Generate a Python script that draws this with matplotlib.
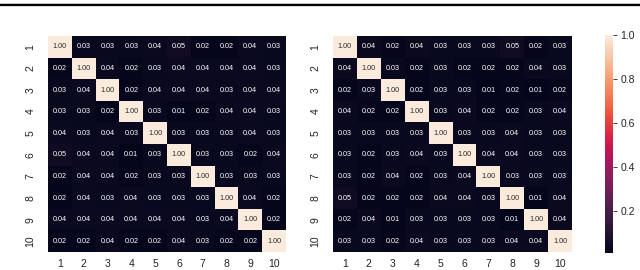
import numpy as np
import matplotlib
matplotlib.use("Agg")
import matplotlib.pyplot as plt
from matplotlib.lines import Line2D
import seaborn as sns

plt.rcParams['font.family'] = ['Liberation Sans', 'DejaVu Sans']

labels = [str(i) for i in range(1, 11)]

left_values = [
    [1.00, 0.03, 0.03, 0.03, 0.04, 0.05, 0.02, 0.02, 0.04, 0.03],
    [0.02, 1.00, 0.04, 0.02, 0.03, 0.04, 0.04, 0.04, 0.04, 0.03],
    [0.03, 0.04, 1.00, 0.02, 0.04, 0.04, 0.04, 0.03, 0.04, 0.04],
    [0.03, 0.03, 0.02, 1.00, 0.03, 0.01, 0.02, 0.04, 0.04, 0.03],
    [0.04, 0.03, 0.04, 0.03, 1.00, 0.03, 0.03, 0.03, 0.04, 0.03],
    [0.05, 0.04, 0.04, 0.01, 0.03, 1.00, 0.03, 0.03, 0.02, 0.04],
    [0.02, 0.04, 0.04, 0.02, 0.03, 0.03, 1.00, 0.03, 0.03, 0.03],
    [0.02, 0.04, 0.03, 0.04, 0.03, 0.03, 0.03, 1.00, 0.04, 0.02],
    [0.04, 0.04, 0.04, 0.04, 0.04, 0.04, 0.03, 0.04, 1.00, 0.02],
    [0.02, 0.02, 0.04, 0.02, 0.02, 0.04, 0.03, 0.02, 0.02, 1.00],
]

right_values = [
    [1.00, 0.04, 0.02, 0.04, 0.03, 0.03, 0.03, 0.05, 0.02, 0.03],
    [0.04, 1.00, 0.03, 0.02, 0.03, 0.02, 0.02, 0.02, 0.04, 0.03],
    [0.02, 0.03, 1.00, 0.02, 0.03, 0.03, 0.01, 0.02, 0.01, 0.02],
    [0.04, 0.02, 0.02, 1.00, 0.03, 0.04, 0.02, 0.02, 0.03, 0.04],
    [0.03, 0.03, 0.03, 0.03, 1.00, 0.03, 0.03, 0.04, 0.03, 0.03],
    [0.03, 0.02, 0.03, 0.04, 0.03, 1.00, 0.04, 0.04, 0.03, 0.03],
    [0.03, 0.02, 0.04, 0.02, 0.03, 0.04, 1.00, 0.03, 0.03, 0.03],
    [0.05, 0.02, 0.02, 0.02, 0.04, 0.04, 0.03, 1.00, 0.01, 0.04],
    [0.02, 0.04, 0.01, 0.03, 0.03, 0.03, 0.03, 0.01, 1.00, 0.04],
    [0.03, 0.03, 0.02, 0.04, 0.03, 0.03, 0.03, 0.04, 0.04, 1.00],
]

cbar_ticks = [0.2, 0.4, 0.6, 0.8, 1.0]

fig = plt.figure(figsize=(6.4, 2.7), dpi=100)
W, H = 640, 270

def px_axes(x0, y0, x1, y1):
    return fig.add_axes([x0 / W, 1 - y1 / H, (x1 - x0) / W, (y1 - y0) / H])

ax1 = px_axes(48, 36, 286, 252)
ax2 = px_axes(333, 36, 572, 252)
cax = px_axes(605, 35, 613, 253)

vmin, vmax = 0.01, 1.0
for ax, vals, draw_cbar in [(ax1, left_values, False), (ax2, right_values, True)]:
    sns.heatmap(np.array(vals), ax=ax, cmap="rocket", vmin=vmin, vmax=vmax,
                annot=True, fmt=".2f", annot_kws={"fontsize": 5.2},
                xticklabels=labels, yticklabels=labels,
                cbar=draw_cbar, cbar_ax=cax if draw_cbar else None)
    ax.tick_params(axis="x", length=0, labelsize=7.5, colors="#222222", pad=5)
    ax.tick_params(axis="y", length=0, labelsize=7.5, colors="#222222", pad=9)
    ax.set_yticklabels(labels, rotation=90, va="center")
    ax.set_xticklabels(labels, rotation=0)

cax.set_yticks(cbar_ticks)
cax.set_yticklabels([f"{t:.1f}" for t in cbar_ticks])
cax.tick_params(labelsize=7.5, length=3, width=0.6, colors="#222222", pad=2.5)
for s in cax.spines.values():
    s.set_visible(False)

fig.add_artist(Line2D([0, 1], [1 - 5.2 / H, 1 - 5.2 / H], color="black", lw=1.6))
fig.add_artist(Line2D([0, 1], [1 - 2.5 / H, 1 - 2.5 / H], color="#bbbbbb", lw=0.6))

fig.savefig("out.png", dpi=100)
